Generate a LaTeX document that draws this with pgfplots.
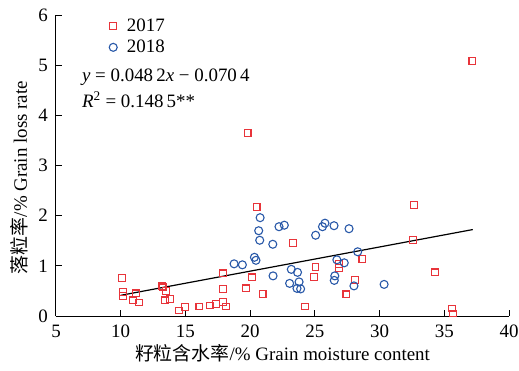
\documentclass[border=0pt]{standalone}
\usepackage{pgfplots}
\pgfplotsset{compat=1.18}
\usepackage{fontspec}
\setmainfont{Liberation Serif}
\newfontfamily\cjk{Noto Sans CJK SC}
\definecolor{myred}{RGB}{232,52,58}
\definecolor{myblue}{RGB}{40,88,168}
\begin{document}
\begin{tikzpicture}
\useasboundingbox (-56bp,-55bp) rectangle (463bp,316bp);
\begin{axis}[
  at={(0,0)}, anchor=south west,
  scale only axis, width=453bp, height=301bp,
  xmin=5, xmax=40, ymin=0, ymax=6,
  xtick={5,10,...,40}, ytick={0,1,...,6},
  axis x line*=bottom, axis y line*=left,
  axis line style={line width=1bp, -},
  tick style={line width=1bp, black},
  tick align=inside, major tick length=6bp,
  font=\fontsize{19}{22}\selectfont,
  /pgf/number format/assume math mode=true,
  tick label style={font=\fontsize{19}{22}\selectfont, inner sep=1bp},
  xticklabel style={yshift=-8bp},
  yticklabel style={xshift=-7bp},
  xlabel={{\cjk 籽粒含水率}/\% Grain moisture content},
  ylabel={{\cjk 落粒率}/\% Grain loss rate},
  xlabel style={at={(axis description cs:0.5,0)}, anchor=north, yshift=-25bp},
  ylabel style={at={(axis description cs:0,0.46)}, anchor=south, yshift=24bp},
  clip=false,
  legend style={draw=none, fill=none, at={(axis description cs:0.1165,0.99)}, anchor=north west,
    font=\fontsize{19}{22}\selectfont, row sep=5bp, inner sep=0pt, nodes={inner xsep=3bp, inner ysep=1bp}},
  legend cell align=left,
  legend image code/.code={\draw[#1] plot coordinates {(4.25bp,0bp)}; \path[draw=none, fill=none] (0bp,-1bp) rectangle (15bp,1bp);},
]
\addplot[only marks, mark=square, mark size=3.4bp, draw=myred, line width=1.1bp] coordinates {
(10.12,0.76) (10.18,0.48) (10.15,0.40) (11.16,0.45) (10.93,0.31) (11.41,0.27)
(13.19,0.60) (13.29,0.57) (13.52,0.50) (13.42,0.31) (13.79,0.34) (14.50,0.11)
(14.97,0.18) (16.08,0.19) (16.88,0.21) (17.34,0.24) (17.88,0.28) (18.11,0.19)
(17.88,0.54) (17.90,0.85) (19.66,0.55) (20.17,0.77) (20.96,0.44) (20.50,2.17)
(19.80,3.65) (23.32,1.45) (24.22,0.19) (25.05,0.98) (24.92,0.78) (26.87,1.04)
(26.87,0.95) (28.67,1.13) (28.08,0.72) (27.44,0.43) (32.67,2.21) (32.56,1.52)
(34.26,0.87) (35.60,0.15) (35.70,0.05) (37.17,5.08)
};
\addlegendentry{2017}
\addplot[only marks, mark=o, mark size=4bp, draw=myblue, line width=1.1bp] coordinates {
(18.76,1.04) (19.40,1.02) (20.33,1.17) (20.45,1.11) (20.77,1.96) (20.66,1.70)
(20.74,1.51) (21.75,1.43) (21.77,0.80) (22.23,1.78) (22.64,1.81) (23.18,0.93)
(23.66,0.87) (23.05,0.65) (23.78,0.68) (23.62,0.55) (23.90,0.54) (25.06,1.61)
(25.59,1.78) (25.78,1.85) (26.48,1.80) (27.64,1.74) (26.70,1.12) (27.27,1.06)
(26.54,0.80) (26.50,0.71) (28.02,0.60) (28.31,1.28) (30.35,0.63)
};
\addlegendentry{2018}
\addplot[black, line width=1.2bp, no marks, forget plot] coordinates {(10.0,0.412) (37.2,1.723)};
\node[anchor=west, inner sep=0pt] at (axis cs:7.0,4.75) {\textit{y} = 0.048\,2\textit{x} − 0.070\,4};
\node[anchor=west, inner sep=0pt] at (axis cs:7.0,4.31) {\textit{R}\textsuperscript{2} = 0.148\,5**};
\end{axis}
\end{tikzpicture}
\end{document}
